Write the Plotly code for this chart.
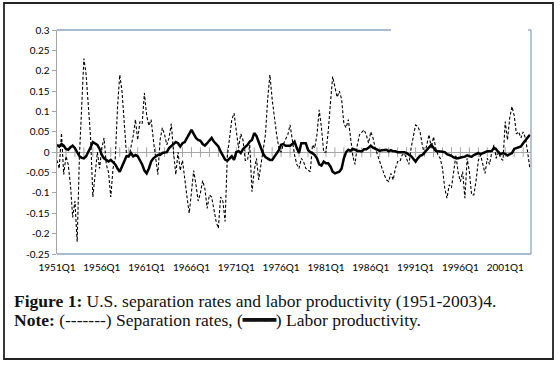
import plotly.graph_objects as go

years = list(range(1951, 2004))
quarters = [f"{y}Q{q}" for y in years for q in range(1, 5)]
tick_labels = ["1951Q1", "1956Q1", "1961Q1", "1966Q1", "1971Q1", "1976Q1",
               "1981Q1", "1986Q1", "1991Q1", "1996Q1", "2001Q1"]
year_ticks = quarters[::4]

separation_rates = [
    -0.02, -0.04, 0.047, -0.055, -0.01, -0.03, -0.08, -0.16, -0.12, -0.22,
    -0.01, 0.12, 0.23, 0.19, 0.11, 0.035, -0.11, -0.05, 0.0, -0.04,
    0.01, 0.035, -0.03, -0.05, -0.11, -0.04, -0.015, 0.11, 0.19, 0.15,
    0.07, -0.005, -0.015, 0.01, 0.04, 0.08, 0.03, 0.075, 0.07, 0.145,
    0.09, 0.065, 0.08, 0.03, -0.02, -0.055, 0.03, 0.06, 0.043, 0.018,
    0.035, 0.07, 0.0, -0.055, 0.0, -0.045, -0.02, -0.072, -0.11, -0.15,
    -0.09, -0.045, -0.08, -0.12, -0.1, -0.07, -0.09, -0.138, -0.105, -0.11,
    -0.14, -0.17, -0.187, -0.11, -0.12, -0.17, -0.01, 0.043, 0.08, 0.096,
    0.05, 0.01, 0.045, 0.03, -0.02, -0.02, 0.018, -0.097, -0.045, -0.015,
    -0.068, -0.03, 0.0, 0.043, 0.13, 0.19, 0.13, 0.084, 0.043, 0.01,
    0.0, 0.02, 0.03, 0.043, 0.067, 0.026, -0.007, -0.03, -0.04, -0.015,
    -0.023, -0.04, -0.043, -0.048, 0.018, 0.01, 0.043, 0.104, 0.06, 0.0,
    0.0, 0.05, 0.12, 0.186, 0.16, 0.135, 0.15, 0.13, 0.07, 0.06,
    0.08, 0.03, -0.01, -0.03, 0.018, 0.043, 0.05, 0.055, 0.043, 0.022,
    0.05, 0.035, 0.01, -0.007, -0.023, -0.04, -0.055, -0.068, -0.072, -0.052,
    -0.068, -0.04, -0.023, -0.023, -0.007, -0.003, -0.015, -0.03, 0.01, 0.043,
    0.067, 0.063, 0.05, 0.018, -0.007, 0.018, 0.043, 0.01, 0.038, 0.01,
    -0.007, -0.015, -0.04, -0.088, -0.113, -0.08, -0.088, -0.048, -0.007, -0.05,
    -0.072, -0.048, -0.113, -0.015, -0.048, -0.105, -0.105, -0.07, -0.02, -0.007,
    -0.03, -0.052, -0.015, -0.03, 0.0, 0.018, -0.015, 0.0, -0.015, -0.02,
    0.075, 0.03, 0.084, 0.112, 0.09, 0.045, 0.05, 0.035, 0.05, 0.035,
    0.0, -0.04,
]

labor_productivity = [
    0.018, 0.014, 0.02, 0.016, 0.008, 0.006, 0.012, 0.016, 0.01, -0.002,
    -0.01, -0.014, -0.015, -0.01, 0.0, 0.012, 0.025, 0.022, 0.018, 0.008,
    -0.007, -0.015, -0.019, -0.023, -0.019, -0.025, -0.03, -0.04, -0.048, -0.035,
    -0.023, -0.01, -0.01, -0.002, -0.01, -0.007, -0.01, -0.02, -0.03, -0.045,
    -0.052, -0.04, -0.023, -0.015, -0.01, -0.007, -0.007, -0.002, -0.001, 0.0,
    0.01, 0.015, 0.022, 0.025, 0.022, 0.014, 0.022, 0.025, 0.035, 0.045,
    0.055, 0.045, 0.035, 0.03, 0.028, 0.02, 0.016, 0.022, 0.03, 0.035,
    0.026, 0.02, 0.014, 0.002, -0.008, -0.018, -0.021, -0.015, -0.01, -0.019,
    0.0, 0.003, -0.002, 0.008, 0.012, 0.018, 0.026, 0.03, 0.047, 0.04,
    0.025, 0.01, -0.004, -0.012, -0.015, -0.019, -0.019, -0.01, -0.002, 0.005,
    0.018, 0.02, 0.016, 0.016, 0.016, 0.02, 0.026, 0.01, -0.002, 0.022,
    0.022, 0.022, 0.006, 0.0, -0.002, -0.007, -0.015, -0.03, -0.033, -0.023,
    -0.027, -0.027, -0.035, -0.048, -0.052, -0.05, -0.048, -0.04, -0.015, 0.0,
    0.006, 0.003, 0.008, 0.006, 0.003, 0.003, 0.002, 0.007, 0.007, 0.011,
    0.016, 0.011, 0.008, 0.007, 0.003, 0.005, 0.005, 0.006, 0.002, 0.005,
    0.002, 0.002, 0.0, 0.0, 0.0, 0.0, -0.002, -0.005, -0.01, -0.016,
    -0.023, -0.015, -0.009, -0.007, 0.0, 0.006, 0.014, 0.018, 0.011, 0.003,
    0.002, 0.002, 0.001, 0.0, -0.005, -0.007, -0.009, -0.013, -0.015, -0.015,
    -0.013, -0.012, -0.011, -0.008, -0.01, -0.011, -0.007, -0.005, -0.002, -0.005,
    -0.002, 0.0, 0.002, 0.002, 0.003, 0.011, 0.007, 0.0, -0.005, -0.002,
    -0.004, -0.008, -0.005, -0.002, 0.008, 0.01, 0.011, 0.014, 0.022, 0.03,
    0.038, 0.043,
]

y_ticks = [0.3, 0.25, 0.2, 0.15, 0.1, 0.05, 0, -0.05, -0.1, -0.15, -0.2, -0.25]
y_tick_text = ["0.3", "0.25", "0.2", "0.15", "0.1", "0.05", "0", "-0.05", "-0.1", "-0.15", "-0.2", "-0.25"]

FRAME = "#8DA4C4"
AXIS = "#A6A6A6"

fig = go.Figure()

# tick marks on the horizontal (zero) axis
fig.add_trace(go.Scatter(
    x=year_ticks, y=[0] * len(year_ticks), mode="markers",
    marker=dict(symbol="line-ns", size=7, line=dict(color=AXIS, width=1)),
    hoverinfo="skip", showlegend=False))

fig.add_trace(go.Scatter(
    x=quarters, y=separation_rates, mode="lines", name="Separation rates",
    line=dict(color="black", width=1.1, dash="3px,2px"), showlegend=False))

fig.add_trace(go.Scatter(
    x=quarters, y=labor_productivity, mode="lines", name="Labor productivity",
    line=dict(color="black", width=2.5), showlegend=False))

fig.update_xaxes(
    type="category", categoryorder="array", categoryarray=quarters,
    range=[0, 211.5], tickvals=tick_labels, ticktext=tick_labels,
    ticks="outside", ticklen=4, tickcolor="rgba(0,0,0,0)",
    tickfont=dict(family="Lato", size=10, color="black"),
    showgrid=False, showline=False, zeroline=False, automargin=False)

fig.update_yaxes(
    range=[-0.25, 0.3], tickvals=y_ticks, ticktext=y_tick_text,
    ticks="outside", ticklen=4, tickcolor=AXIS,
    tickfont=dict(family="Lato", size=10, color="black"),
    showgrid=False, showline=True, linecolor=AXIS, linewidth=1.5,
    zeroline=True, zerolinecolor=AXIS, zerolinewidth=1.2, automargin=False)

shapes = [
    dict(type="line", xref="paper", yref="paper", x0=0, x1=0.7046, y0=1, y1=1,
         line=dict(color=FRAME, width=1.3)),
    dict(type="line", xref="paper", yref="paper", x0=0.9937, x1=1, y0=1, y1=1,
         line=dict(color=FRAME, width=1.3)),
    dict(type="line", xref="paper", yref="paper", x0=1, x1=1, y0=0, y1=1,
         line=dict(color=FRAME, width=1.3)),
    dict(type="line", xref="paper", yref="paper", x0=0, x1=1, y0=0, y1=0,
         line=dict(color=FRAME, width=1.3)),
    dict(type="rect", xref="paper", yref="paper", x0=-0.1118, x1=1.0464,
         y0=-0.4688, y1=1.1205, line=dict(color="#222222", width=1.8)),
]

annotations = [
    dict(xref="paper", yref="paper", x=(12 - 57) / 474, y=(254 - 301) / 224,
         xanchor="left", yanchor="middle", showarrow=False, align="left",
         text="<b>Figure 1:</b> U.S. separation rates and labor productivity (1951-2003)4.",
         font=dict(family="Liberation Serif", size=17.5, color="#111111")),
    dict(xref="paper", yref="paper", x=(12 - 57) / 474, y=(254 - 320) / 224,
         xanchor="left", yanchor="middle", showarrow=False, align="left",
         text="<b>Note:</b> (-------) Separation rates, (<b>━━━</b>) Labor productivity.",
         font=dict(family="Liberation Serif", size=17.5, color="#111111")),
]

fig.update_layout(
    width=560, height=367,
    margin=dict(l=57, r=29, t=30, b=113, pad=0, autoexpand=False),
    paper_bgcolor="white", plot_bgcolor="white", hovermode=False,
    shapes=shapes, annotations=annotations, showlegend=False)

fig.write_html(
    "out.html",
    config={"displayModeBar": False, "staticPlot": True},
    post_script="document.body.style.margin='0px';document.body.style.overflow='hidden';")
